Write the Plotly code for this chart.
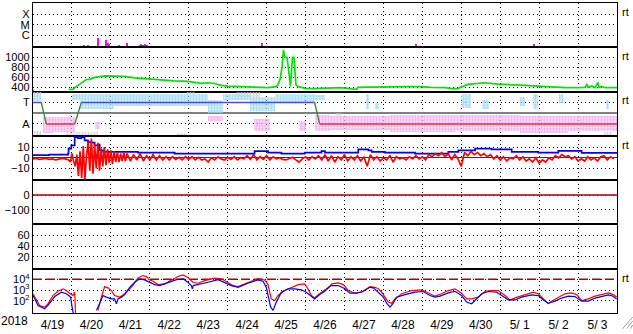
import pandas as pd
import plotly.graph_objects as go
from plotly.subplots import make_subplots

START = pd.Timestamp("2018-04-19 00:00")
END = pd.Timestamp("2018-05-04 00:00")

# ---------------- data (hours since 2018-04-19 00:00) ----------------
xray_hours = [31.4, 32.7, 33.9, 40.4, 45.3, 46.1, 46.8, 52.8, 58.1, 65.8, 66.9, 67.8,
              68.9, 70.3, 114.0, 141.3, 168.7, 236.1, 276.6, 282.7, 309.0]
xray_flux = [1.2e-7, 1.1e-7, 1.2e-7, 5.6e-7, 3.5e-7, 2.2e-7, 1.5e-7, 1.3e-7, 2.1e-7, 1.4e-7,
             1.6e-7, 1.3e-7, 1.5e-7, 1.2e-7, 1.0e-7, 2.0e-7, 1.3e-7, 1.6e-7, 1.0e-7, 1.0e-7, 1.6e-7]

speed_hours = [0, 0.6, 1.0, 22, 24.7, 25.7, 27.7, 29, 30.8, 32.9, 35.1, 38, 44.2, 50.4, 56.5,
               62.7, 70.9, 79.1, 87.3, 95.5, 103.7, 107.9, 112, 116.1, 120.2, 128.4, 136.7,
               144.9, 150, 151, 152.3, 153.5, 154.4, 155.3, 156.6, 157.5, 158.1, 158.7, 159.3,
               159.9, 160.9, 161.5, 162.1, 163.4, 167.7, 173.8, 180, 183, 189.2, 199.5, 200.3,
               207.7, 217, 229.3, 239.8, 244.7, 254, 258.3, 262, 264.3, 268.1, 274.3, 278.6,
               286.6, 295.1, 303.3, 311.3, 319.7, 327.9, 335.9, 340.3, 341.5, 342.1, 344.6,
               346.4, 348.3, 349, 350.8, 352.6, 360]
speed_vals = [340, 340, None, 360, 360, 395, 440, 470, 523, 557, 560, 600, 630, 620, 620,
              590, 576, 550, 530, 518, 480, 492, 478, 440, 425, 414, 394,
              394, 414, 450, 560, 800, 1150, 1000, 1000, 800, 600, 420, 700,
              1000, 1000, 750, 450, 420, 380, 375, 385, 394, 394, 361, 400,
              406, 414, 414, 414, 400, 394, 375, 375, 414, 459, 484, 492,
              465, 459, 440, 425, 406, 394, 394, 400, 470, 400, 430,
              390, 500, 400, 420, 394, 394]

# IMF sector polarity (T = +1, A = -1)
sector_hours = [0, 5.1, 8.2, 25.7, 29.8, 173.6, 176.7, 360]
sector_vals = [1, 1, -1, -1, 1, 1, -1, -1]

# IMF direction clouds: start hour, end hour, low, high
toward_start = [0, 24, 29, 50, 89, 108, 117, 134, 149, 174, 205, 211, 264, 277, 300, 308, 324, 353]
toward_end = [5, 29, 50, 89, 108, 117, 134, 149, 174, 180, 207, 213, 270, 281, 303, 311, 327, 355]
toward_lo = [1.2, 1.3, 0.4, 0.7, 0.7, 0.1, 1.3, 0.25, 1.0, 1.3, 0.4, 0.4, 0.5, 0.4, 0.7, 0.4, 1.0, 0.4]
toward_hi = [1.8, 1.8, 1.85, 1.8, 1.8, 1.3, 1.8, 1.6, 1.85, 1.7, 1.8, 1.0, 1.8, 1.3, 1.6, 1.8, 1.8, 1.3]

away_start = [6, 13, 38, 108, 136, 164, 174, 183, 220, 260, 300, 330]
away_end = [13, 26, 41, 117, 146, 168, 183, 220, 260, 300, 330, 360]
away_lo = [-1.8, -1.7, -1.4, -0.7, -1.6, -1.6, -1.6, -1.5, -1.7, -1.6, -1.8, -1.6]
away_hi = [-0.3, -0.3, -0.8, -0.2, -0.5, -0.7, -0.1, -0.2, -0.1, -0.1, -0.2, -0.2]

other_start = [0, 0, 20, 88, 95, 125, 186, 352]
other_end = [5, 5, 40, 95, 100, 140, 190, 357]
other_lo = [1.7, -2.0, -2.0, -2.0, 1.7, 1.5, -0.3, -2.0]
other_hi = [2.0, -1.6, -1.7, -1.8, 2.0, 2.0, 0.1, -1.7]

# Bt (total field)
bt_hours = [0, 10, 21.6, 21.9, 23.6, 25.7, 27.7, 29.8, 31.8, 33.9, 35.9, 38, 40.1, 41.1, 43.2,
            50.3, 64.7, 87.3, 120.2, 136.6, 144.9, 153.1, 167.5, 177.8, 180, 192.3, 200.5,
            206.7, 208.8, 217, 235.5, 256, 262.2, 272.5, 282.7, 295.1, 311.5, 323.8, 338.2, 360]
bt_vals = [2.5, 3, 4, 8.6, 11.7, 19.4, 18.5, 19.4, 16.3, 14.8, 14.2, 11.7, 12.3, 7.1, 5.5,
           5.5, 4.9, 4, 4, 6.2, 4.9, 4, 4.9, 6.2, 4.9, 4.9, 8,
           7, 5.5, 4.9, 4, 5.5, 7, 8.6, 8, 5.5, 4.9, 6.5, 4.6, 4.6]

# Bz: 2-hourly 0-20 h, hourly 22-57 h, 2-hourly 58-358 h
bz_quiet_start = [-1, -0.5, -1.5, -1, -0.5, -1.5, -1, -2, -1, -0.5, -1]
bz_storm = [-2, -4, 4, -3, -8, 3, -17, 6, -19, 11, -20, 2, 15, -12, 18, -15, 13, -10,
            14, -12, 9, -8, 10, -7, 8, -5, 7, -6, 6, -4, 5, -4, 4, -3, 5, -3]
bz_rest = [4, -3, 3, -2, 4, -3, 2,
           -2, 3, -2, 2, -2, 1, -2, 1, -1.5, 0.5, -2, 1,
           -1.5, 1, -2, 0.5, -2, -1, -4, 0, -2, 1, -1, -2,
           0.5, -1.5, 1, -2, 0, -1, 2, -1.5, 3, -2, 1, -1.5,
           2, -2, 1, -1, 0, -1.5, -2, -1, 0.5, -2, -4, -1,
           1, -2, 1, -1, 2, -2, 3, -3, 2, -4, 1, -2,
           3, -3, 1, -2, 2, -3, 1, -8, 3, -2, 1, -3,
           0, -2, 2, -4, 1, -1, 0, -2, 1, -1, 2, -1,
           1, -2, 3, 1, 4, 2, 5, 1, 4, -2, 3, -1,
           -8, 5, 2, 6, 3, 5, 2, 4, 1, 3, -1, 2,
           -2, 1, -3, 0, -1, 2, -2, 1, -3, -1, -4, 0,
           -5, -2, -4, 0, -2, 2, 0, 3, 1, 2, -1, 1,
           -3, -1, -3, 1, -2, 0, -3, 1, 2, -2, 1, -1]

dst_hours = [0, 360]
dst_vals = [0, 0]

kp_hours = [0, 360]
kp_vals = [None, None]

flux_threshold = 1e4

flux_red_hours = [0, 2.1, 4.1, 7.2, 9.2, 12.3, 15.4, 18.5, 20.5, 22.6, 24.7, 25.7, 26.3, 26.5,
                  40.1, 42.1, 44.2, 46.2, 48.3, 50.3, 53.4, 56.5, 60.6, 64.7, 67.8, 69.9, 71.9,
                  74, 77.1, 81.2, 85.3, 89.4, 92.5, 95.5, 98.6, 101.7, 105.8, 112, 116.1, 120.2,
                  123.3, 126.4, 130.5, 134.6, 138.7, 142.8, 144.9, 145.9, 146.9, 149, 151, 155.2,
                  159.2, 163.4, 167.5, 169.5, 171.6, 173.6, 176.7, 179.8, 182.9, 184.1, 188.2,
                  191.3, 194.4, 198.5, 202.6, 207.7, 210.8, 212.9, 214.9, 217, 219, 221.1, 223.1,
                  227.3, 233.4, 239.6, 243.7, 247.8, 251.9, 256, 260.1, 264.2, 267.3, 270.4, 274.5,
                  278.6, 282.7, 286.8, 291, 294, 297.1, 301.2, 305.3, 308.4, 311.5, 315.6, 317.7,
                  319.7, 323.8, 327.9, 332, 335.1, 338.2, 342.3, 346.4, 350.5, 354.7, 357.7, 359.8]
flux_red = [450, 107, 37, 26, 53, 310, 770, 1300, 900, 510, 310, 630, 3, None,
            13, 220, 2100, 1600, 900, 310, 220, 450, 1800, 13000, 22000, 18000, 8700,
            6600, 3200, 3700, 8700, 18000, 25000, 15000, 5300, 4300, 7500, 13000, 11000, 5300,
            2600, 2100, 3700, 7500, 11500, 8700, 3200, 630, 150, 107, 310, 900,
            1800, 3200, 3700, 1300, 310, 190, 450, 900, 2100, 3700, 4600,
            3200, 900, 510, 630, 2100, 1800, 1300, 630, 220, 76, 60, 150,
            450, 900, 1050, 510, 270, 450, 900, 1300, 510, 150, 150, 220,
            770, 900, 900, 310, 120, 190, 310, 510, 630, 450, 107, 53,
            93, 220, 450, 550, 380, 107, 150, 270, 380, 550, 380, 220]

flux_blue_hours = [0, 3.1, 7.2, 9.2, 13.4, 17.5, 20.5, 23.2, 24.1, 25.3, 25.5,
                   39.1, 41.1, 43.2, 45.2, 48.3, 50.3, 51.4, 52.4, 54.5, 56.5, 59.6, 62.7, 65.7,
                   68.8, 71.9, 75, 78.1, 83.2, 88.4, 92.5, 95.5, 97.6, 98.2, 98.8, 101.7, 107.9,
                   114.1, 118.2, 122.2, 126.4, 132.5, 138.7, 141.8, 143.8, 145.3, 146.5, 148, 150,
                   153.1, 157.2, 161.3, 165.4, 168.5, 171.6, 173.6, 176.7, 179.8, 182.9, 184.1,
                   188.2, 192.3, 195.4, 199.5, 203.6, 207.7, 209.8, 212.9, 216, 218, 220.1, 222.1,
                   224.2, 229.3, 235.5, 240.6, 244.7, 247.8, 250.9, 256, 260.1, 264.2, 267.3,
                   270.4, 273.5, 276.6, 280.7, 285.8, 289.9, 293, 297.1, 301.2, 307.4, 311.5,
                   314.6, 317.7, 321.8, 325.9, 330, 334.1, 338.2, 342.3, 346.4, 350.5, 354.7,
                   357.7, 359.8]
flux_blue = [310, 37, 18, 37, 250, 630, 450, 220, 26, 3, None,
             13, 60, 310, 220, 150, 150, 53, 150, 220, 380, 1800, 5300, 11000,
             8700, 5300, 3200, 2600, 5300, 9300, 11000, 5300, 2600, 1300, 2600, 3200, 5300,
             9300, 5300, 2600, 1800, 4300, 8700, 6600, 1800, 220, 26, 13, 76,
             630, 1300, 1300, 1050, 630, 250, 150, 380, 770, 2100, 2600,
             2600, 1300, 510, 510, 770, 1800, 1600, 630, 220, 60, 26, 60,
             220, 380, 630, 730, 310, 220, 270, 550, 770, 310, 76,
             53, 150, 450, 730, 630, 250, 120, 120, 220, 360, 310,
             120, 60, 93, 180, 270, 250, 93, 93, 180, 270, 360,
             270, 150]

# ---------------- helpers ----------------
def to_time(hours):
    return [START + pd.Timedelta(hours=h) for h in hours]

def seg_bars(starts, ends, los, his):
    xs = [START + pd.Timedelta(hours=(s + e) / 2) for s, e in zip(starts, ends)]
    widths = [(e - s) * 3600000 for s, e in zip(starts, ends)]
    return xs, widths, los, [h - l for l, h in zip(los, his)]

FONT = "Liberation Sans, Arial, Helvetica, sans-serif"
BLACK = "black"
DOT = "1px,3px"
DKRED = "#b40000"
YFONT = dict(size=11, family=FONT, color=BLACK)

fig = make_subplots(rows=7, cols=1, shared_xaxes=True, vertical_spacing=0)

# Row 1: X-ray flares
xray_base = 1e-9
fig.add_trace(go.Bar(x=to_time(xray_hours), y=[f - xray_base for f in xray_flux], base=xray_base,
                     width=[2.6e6] * len(xray_hours), marker=dict(color="#ff00ff", line=dict(width=0))),
              row=1, col=1)

# Row 2: solar wind speed
fig.add_trace(go.Scatter(x=to_time(speed_hours), y=speed_vals, mode="lines",
                         line=dict(color="#00e600", width=1.7), connectgaps=False), row=2, col=1)

# Row 3: IMF direction clouds + sector line
for st, en, lo, hi, col, sol in [
    (other_start, other_end, other_lo, other_hi, "#c8c8c8", 0.45),
    (toward_start, toward_end, toward_lo, toward_hi, "#a4def5", 0.75),
    (away_start, away_end, away_lo, away_hi, "#f5b4ef", 0.75),
]:
    xs, ws, bs, ys = seg_bars(st, en, lo, hi)
    fig.add_trace(go.Bar(x=xs, y=ys, base=bs, width=ws,
                         marker=dict(color=col, line=dict(width=0),
                                     pattern=dict(shape=".", size=3, solidity=sol, fgcolor=col,
                                                  bgcolor="rgba(255,255,255,0)", fillmode="replace"))),
                  row=3, col=1)

seg_x = {"T": [], "A": [], "S": []}
seg_y = {"T": [], "A": [], "S": []}
for i in range(len(sector_hours) - 1):
    v0, v1 = sector_vals[i], sector_vals[i + 1]
    key = "T" if (v0 == 1 and v1 == 1) else ("A" if (v0 == -1 and v1 == -1) else "S")
    seg_x[key] += to_time([sector_hours[i], sector_hours[i + 1]]) + [None]
    seg_y[key] += [v0, v1, None]
for key, col in [("T", "#4b4bdc"), ("A", "#d83a3a"), ("S", "#3f8a3f")]:
    fig.add_trace(go.Scatter(x=seg_x[key], y=seg_y[key], mode="lines",
                             line=dict(color=col, width=1.4)), row=3, col=1)

# Row 4: Bt / Bz
bz_hours = list(range(0, 22, 2)) + list(range(22, 58)) + list(range(58, 360, 2))
bz_vals = bz_quiet_start + bz_storm + bz_rest
fig.add_trace(go.Scatter(x=to_time(bt_hours), y=bt_vals, mode="lines", line_shape="hv",
                         line=dict(color="#0000ff", width=1.7)), row=4, col=1)
fig.add_trace(go.Scatter(x=to_time(bz_hours[:len(bz_vals)]), y=bz_vals[:len(bz_hours)], mode="lines",
                         line=dict(color="#ff0000", width=1.7)), row=4, col=1)

# Row 5: Dst baseline
fig.add_trace(go.Scatter(x=to_time(dst_hours), y=dst_vals, mode="lines",
                         line=dict(color=DKRED, width=1.4)), row=5, col=1)

# Row 6: (no data)
fig.add_trace(go.Scatter(x=to_time(kp_hours), y=kp_vals, mode="lines",
                         line=dict(color="#000000", width=1)), row=6, col=1)

# Row 7: electron flux
fig.add_trace(go.Scatter(x=[START, END], y=[flux_threshold, flux_threshold], mode="lines",
                         line=dict(color=DKRED, width=1.4, dash="9px,4px")), row=7, col=1)
fig.add_trace(go.Scatter(x=to_time(flux_red_hours), y=flux_red, mode="lines",
                         line=dict(color="#ff0000", width=1.2), connectgaps=False), row=7, col=1)
fig.add_trace(go.Scatter(x=to_time(flux_blue_hours), y=flux_blue, mode="lines",
                         line=dict(color="#0000ff", width=1.2), connectgaps=False), row=7, col=1)

# ---------------- axes ----------------
fig.update_xaxes(type="date", range=[START, END], showline=True, mirror=True, linecolor=BLACK,
                 linewidth=1.3, showgrid=True, gridcolor=BLACK, griddash=DOT, gridwidth=1,
                 tick0=START, dtick=86400000, ticks="", zeroline=False)
fig.update_xaxes(showticklabels=True, ticklabelmode="period", tickformat="%-m/%e",
                 tickfont=dict(size=12, family=FONT, color=BLACK), row=7, col=1)

common_y = dict(showline=True, mirror=True, linecolor=BLACK, linewidth=1.3, showgrid=True,
                gridcolor=BLACK, griddash=DOT, gridwidth=1, ticks="", zeroline=False,
                tickfont=YFONT, fixedrange=True)
fig.update_yaxes(**common_y)
fig.update_yaxes(type="log", range=[-7.1, -2.96], tickvals=[1e-6, 1e-5, 1e-4],
                 ticktext=["C", "M", "X"], row=1, col=1)
fig.update_yaxes(range=[316, 1201], tickvals=[400, 600, 800, 1000], row=2, col=1)
fig.update_yaxes(range=[-2.11, 2.02], tickvals=[-1, 1], ticktext=["A", "T"], zeroline=True,
                 zerolinecolor="#808080", zerolinewidth=1.5, row=3, col=1)
fig.update_yaxes(range=[-20.96, 20.6], tickvals=[-10, 0, 10], zeroline=True,
                 zerolinecolor=DKRED, zerolinewidth=1.3, row=4, col=1)
fig.update_yaxes(range=[-201, 102], tickvals=[-100, 0], row=5, col=1)
fig.update_yaxes(range=[-2.6, 80.7], tickvals=[20, 40, 60], row=6, col=1)
fig.update_yaxes(type="log", range=[0.87, 4.98], tickvals=[100, 1000, 10000],
                 ticktext=["10<sup>2</sup>", "10<sup>3</sup>", "10<sup>4</sup>"], row=7, col=1)

# ---------------- annotations ----------------
annos = []
for r in [1, 2, 3, 4, 7]:
    yref = "y domain" if r == 1 else f"y{r} domain"
    annos.append(dict(text="rt", xref="paper", x=1, xshift=3, xanchor="left",
                      yref=yref, y=0.8, yanchor="middle", showarrow=False,
                      font=dict(size=11, family=FONT, color=BLACK)))
annos.append(dict(text="2018", xref="paper", x=-0.0325, xanchor="center",
                  yref="paper", y=-0.026, yanchor="middle", showarrow=False,
                  font=dict(size=12, family=FONT, color=BLACK)))

grip = []
for x0, y0, x1, y1 in [(1.0096, -0.0508, 1.027, -0.0127), (1.0165, -0.0508, 1.027, -0.0254),
                       (1.0233, -0.0508, 1.027, -0.0381)]:
    grip.append(dict(type="line", xref="paper", yref="paper", x0=x0, y0=y0, x1=x1, y1=y1,
                     line=dict(color="#9a9a9a", width=1)))

fig.update_layout(width=633, height=334, margin=dict(l=33, r=16, t=2, b=17),
                  paper_bgcolor="white", plot_bgcolor="white", showlegend=False,
                  font=dict(family=FONT, size=12, color=BLACK), barmode="overlay", bargap=0,
                  annotations=annos, shapes=grip)

fig.write_html("out.html")
